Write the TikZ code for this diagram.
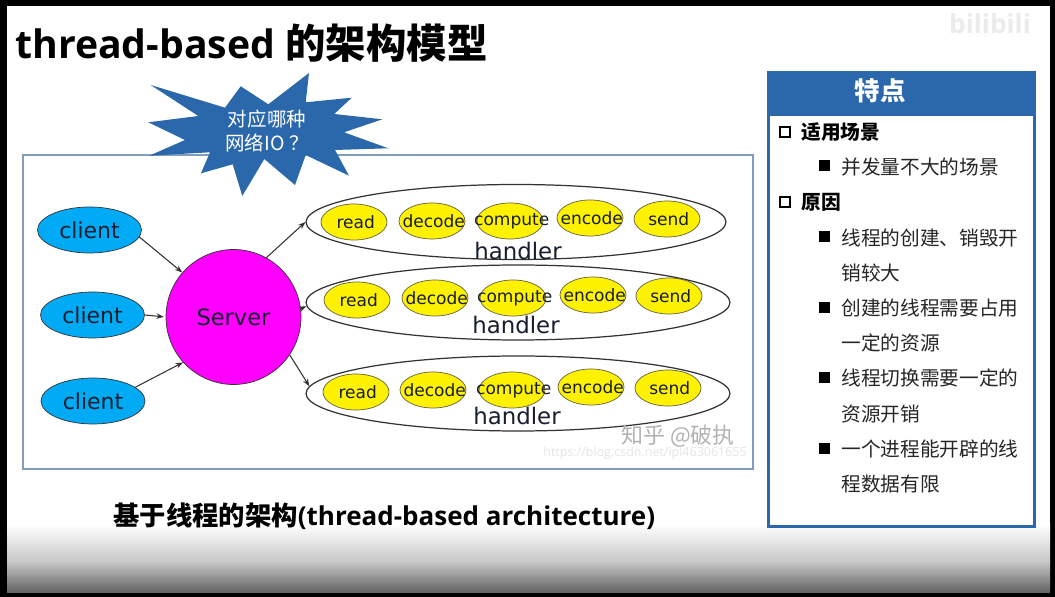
\documentclass[tikz,border=0pt]{standalone}
\usepackage{fontspec}
\setmainfont{Open Sans}
\newfontfamily\cjk{Noto Sans CJK SC}
\newfontfamily\labelfont{DejaVu Sans}
\newcommand{\tasktext}[1]{\makebox[0pt]{\hspace{2pt}#1}}
\usetikzlibrary{arrows.meta,shapes.geometric}

\begin{document}
\begin{tikzpicture}[x=0.02cm,y=-0.02cm]
\tikzset{
  clientnode/.style={ellipse,draw=black!80,fill=clientblue,minimum width=2.08cm,minimum height=0.92cm,inner sep=0pt,font=\labelfont\fontsize{12.5}{14}\selectfont,text=inkdark},
  servernode/.style={circle,draw=black!80,fill=servermagenta,minimum size=2.7cm,inner sep=0pt,font=\labelfont\fontsize{12.8}{14}\selectfont,text=inkdark},
  handlernode/.style={ellipse,draw=black!80,line width=0.7pt,minimum width=8.48cm,minimum height=1.5cm,inner sep=0pt},
  tasknode/.style={ellipse,draw=black!70!yellow,fill=yellow,minimum width=1.32cm,minimum height=0.72cm,inner sep=0pt,font=\labelfont\fontsize{9.7}{12}\selectfont,text=inkdark},
  handlertext/.style={font=\labelfont\fontsize{13}{15}\selectfont,text=inkdark,inner sep=0pt},
  link/.style={-{Stealth[length=1.5mm,width=1.1mm]},black!80,semithick},
  headtext/.style={anchor=west,inner sep=0pt,font=\cjk\bfseries\fontsize{11.2}{13}\selectfont},
  bodytext/.style={anchor=west,inner sep=0pt,font=\cjk\fontsize{11.2}{13}\selectfont,text=black!85},
  openbox/.style={rectangle,draw=black,line width=1.1pt,minimum size=0.19cm,inner sep=0pt},
  fullbox/.style={rectangle,fill=black,minimum size=0.22cm,inner sep=0pt}
}
\definecolor{clientblue}{RGB}{0,170,245}
\definecolor{servermagenta}{RGB}{255,0,255}
\definecolor{inkdark}{RGB}{22,30,48}
\definecolor{panelblue}{RGB}{42,104,171}
\definecolor{framegray}{RGB}{130,158,190}
% backdrop
\fill[black] (0,0) rectangle (1055,597);
\fill[white] (7,6) rectangle (1050,525);
\shade[top color=white,bottom color=black!22] (7,524) rectangle (1050,562);
\shade[top color=black!22,bottom color=black!62] (7,561.5) rectangle (1050,593);
\node[inner sep=0pt,text=black!8,font=\bfseries\fontsize{15}{18}\selectfont] (mark_site) at (990,24) {bilibili};
% title and caption
\node[anchor=west,inner sep=0pt,font=\bfseries\fontsize{22.3}{26}\selectfont] (title) at (15,43) {thread-based {\cjk\fontsize{23}{26}\selectfont 的架构模型}};
\node[anchor=west,inner sep=0pt,font=\bfseries\fontsize{14.8}{18}\selectfont] (caption) at (113,516) {{\cjk\fontsize{15}{18}\selectfont 基于线程的架构}(thread-based architecture)};
% frame and star
\draw[framegray,line width=0.6pt] (23,155) rectangle (753,469);
\fill[panelblue] (150.7,85) -- (225,107.7) -- (240.7,86.3) -- (268.3,104.3) -- (309,73) -- (305.7,102.3)
  -- (351.7,97.7) -- (334.3,114) -- (382.3,119.3) -- (344,132.3) -- (388.3,148.3) -- (335,150)
  -- (349,175.7) -- (305.7,155) -- (295,185) -- (264.3,159) -- (242.3,196) -- (232.7,164.3)
  -- (201,173.3) -- (210,152.3) -- (149.3,155.7) -- (185,140) -- (148.3,122.3) -- (198.3,116) -- cycle;
\node[align=center,inner sep=0pt,text=white,font=\cjk\fontsize{11.1}{13.6}\selectfont] (star_text) at (267,131) {对应哪种\\网络IO ？};
% clients and server
\node[clientnode] (client_a) at (89.5,230) {client};
\node[clientnode] (client_b) at (92.5,315) {client};
\node[clientnode] (client_c) at (93,401) {client};
\node[servernode] (server) at (233.5,317) {Server};
% handlers
\node[handlernode,minimum width=8.4cm] (handler_a) at (516,222) {};
\node[handlernode] (handler_b) at (518,302.5) {};
\node[handlernode] (handler_c) at (518,393.5) {};
\node[tasknode] (read_a) at (354,222) {\tasktext{read}};
\node[tasknode] (decode_a) at (432,221) {\tasktext{decode}};
\node[tasknode] (compute_a) at (510,221) {\tasktext{compute}};
\node[tasknode] (encode_a) at (590,218) {\tasktext{encode}};
\node[tasknode] (send_a) at (667,219) {\tasktext{send}};
\node[tasknode] (read_b) at (357,300) {\tasktext{read}};
\node[tasknode] (decode_b) at (435,298) {\tasktext{decode}};
\node[tasknode] (compute_b) at (513,298) {\tasktext{compute}};
\node[tasknode] (encode_b) at (593,295) {\tasktext{encode}};
\node[tasknode] (send_b) at (669,296) {\tasktext{send}};
\node[tasknode] (read_c) at (356,392) {\tasktext{read}};
\node[tasknode] (decode_c) at (433,390) {\tasktext{decode}};
\node[tasknode] (compute_c) at (512,390) {\tasktext{compute}};
\node[tasknode] (encode_c) at (591,387) {\tasktext{encode}};
\node[tasknode] (send_c) at (668,388) {\tasktext{send}};
\node[handlertext] (label_a) at (518,251) {handler};
\node[handlertext] (label_b) at (516,325) {handler};
\node[handlertext] (label_c) at (517,416) {handler};
\draw[link] (client_a.-8) -- (server.139);
\draw[link,shorten >=1pt] (client_b.east) -- (server.west);
\draw[link] (client_c.18) -- (server.222);
\draw[link] (server.61) -- (handler_a.west);
\draw[link] (server.7) -- (handler_b.181.5);
\draw[link] (server.-34) -- (handler_c.178.2);
% watermark
\node[inner sep=0pt,text=black!30,font=\cjk\fontsize{12.5}{15}\selectfont] (mark_zhihu) at (678,436) {知乎 @破执};
\node[inner sep=0pt,text=black!10,font=\fontsize{7.1}{9}\selectfont] (mark_url) at (645,453) {https://blog.csdn.net/lpl463061655};
% side panel
\node[anchor=north west,rectangle,draw=panelblue,line width=1.7pt,fill=white,outer sep=0pt,minimum width=5.33cm,minimum height=9.09cm,inner sep=0pt] (panel) at (768.5,72.5) {};
\fill[panelblue] (767,71) rectangle (1036,116);
\node[inner sep=0pt,text=white,font=\cjk\bfseries\fontsize{14.5}{17}\selectfont] (panel_title) at (880,91) {特点};
\node[openbox] (box_a) at (785,132) {};
\node[headtext] (head_a) at (801,132) {适用场景};
\node[fullbox] (item_a) at (824,166) {};
\node[bodytext] (text_a) at (841,167) {并发量不大的场景};
\node[openbox] (box_b) at (785,202) {};
\node[headtext] (head_b) at (801,202) {原因};
\node[fullbox] (item_b) at (824,237) {};
\node[bodytext] (text_b) at (841,238) {线程的创建、销毁开};
\node[bodytext] (text_bb) at (841,273) {销较大};
\node[fullbox] (item_c) at (824,308) {};
\node[bodytext] (text_c) at (841,308) {创建的线程需要占用};
\node[bodytext] (text_cc) at (841,343) {一定的资源};
\node[fullbox] (item_d) at (824,378) {};
\node[bodytext] (text_d) at (841,378) {线程切换需要一定的};
\node[bodytext] (text_dd) at (841,414) {资源开销};
\node[fullbox] (item_e) at (824,449) {};
\node[bodytext] (text_e) at (841,449) {一个进程能开辟的线};
\node[bodytext] (text_ee) at (841,484) {程数据有限};
\end{tikzpicture}
\end{document}
